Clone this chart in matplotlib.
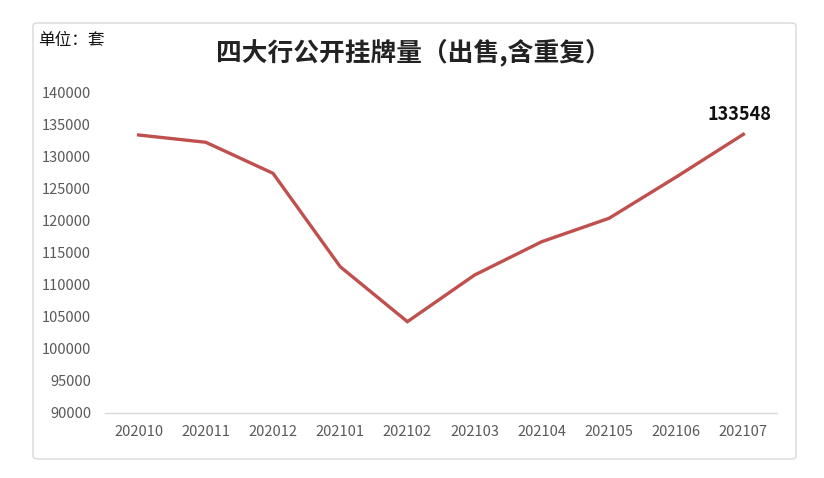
import matplotlib
matplotlib.use('Agg')
import matplotlib.pyplot as plt
from matplotlib.patches import FancyBboxPatch

plt.rcParams['font.family'] = ['Noto Sans CJK SC', 'DejaVu Sans']

months = ['202010', '202011', '202012', '202101', '202102',
          '202103', '202104', '202105', '202106', '202107']
listings = [133440, 132300, 127450, 112860, 104270,
            111560, 116770, 120420, 126875, 133548]
yticks = list(range(90000, 140001, 5000))

title = '四大行公开挂牌量（出售,含重复）'
unit = '单位：套'

fig = plt.figure(figsize=(8.24, 4.78), dpi=100)

# card border behind everything
card = FancyBboxPatch((33 / 824, 1 - 459 / 478), (796 - 33) / 824, (459 - 23) / 478,
                      boxstyle='round,pad=0,rounding_size=0.006',
                      transform=fig.transFigure, facecolor='white',
                      edgecolor='#d9d9d9', linewidth=1.0, zorder=-5)
fig.patches.append(card)

ax = fig.add_axes([105 / 824, 1 - 413 / 478, (777 - 105) / 824, (413 - 93) / 478])
ax.set_zorder(2)
ax.patch.set_alpha(0)

x = list(range(len(months)))
ax.plot(x, listings, color='#C0504D', linewidth=2.4, solid_joinstyle='miter')

ax.set_xlim(-0.5, len(months) - 0.5)
ax.set_ylim(90000, 140000)
ax.set_yticks(yticks)
ax.set_yticklabels([str(v) for v in yticks])
ax.set_xticks(x)
ax.set_xticklabels(months)

for s in ['top', 'right', 'left']:
    ax.spines[s].set_visible(False)
ax.spines['bottom'].set_color('#d9d9d9')
ax.spines['bottom'].set_linewidth(1.0)
ax.tick_params(axis='both', length=0, labelsize=10.5, labelcolor='#595959')
ax.tick_params(axis='y', pad=10)
ax.tick_params(axis='x', pad=9)

ax.annotate(str(listings[-1]), (x[-1], listings[-1]), xytext=(-3, 14),
            textcoords='offset points', ha='center', va='center',
            fontsize=13, fontweight='bold', color='#111111')

fig.text(413 / 824, 1 - 52 / 478, title, ha='center', va='center',
         fontsize=18.5, fontweight='bold', color='#222222')
fig.text(38 / 824, 1 - 41 / 478, unit, ha='left', va='center',
         fontsize=12, fontweight='medium', color='#111111')

fig.savefig('out.png', dpi=100, facecolor='white')
